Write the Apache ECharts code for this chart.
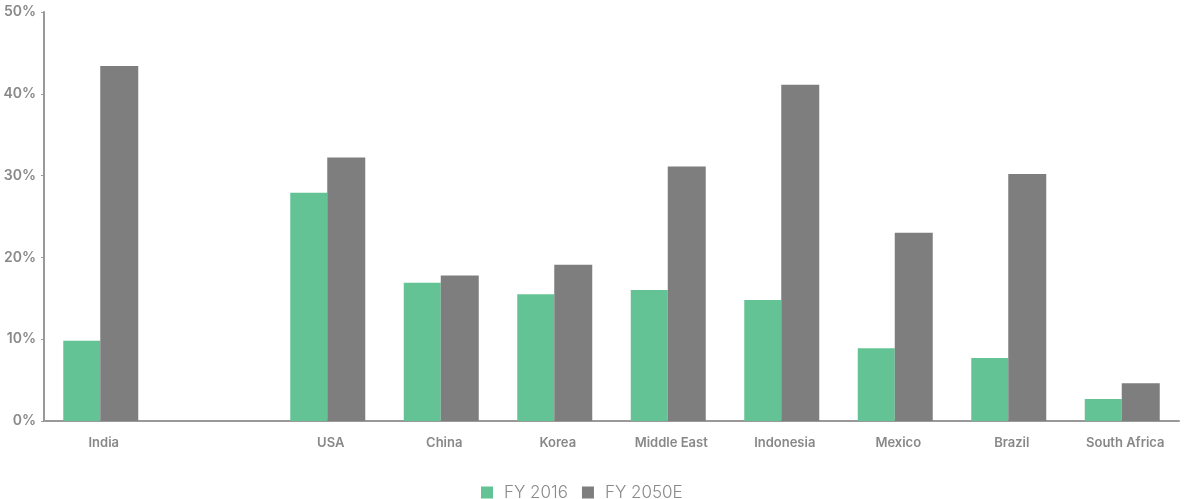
<!DOCTYPE html>
<html>
<head>
<meta charset="utf-8">
<script src="https://cdn.jsdelivr.net/npm/echarts@6/dist/echarts.min.js"></script>
<style>
html,body{margin:0;padding:0;background:#fff;}
#chart{width:1186px;height:499px;}
</style>
</head>
<body>
<div id="chart"></div>
<script>
const categories = ['India', '', 'USA', 'China', 'Korea', 'Middle East', 'Indonesia', 'Mexico', 'Brazil', 'South Africa'];
const fy2016 = [9.8, null, 27.9, 16.9, 15.5, 16.0, 14.8, 8.9, 7.7, 2.7];
const fy2050e = [43.4, null, 32.2, 17.8, 19.1, 31.1, 41.1, 23.0, 30.2, 4.6];
const yTicks = [0, 10, 20, 30, 40, 50];

const chart = echarts.init(document.getElementById('chart'));
const labelColor = '#888888';
chart.setOption({
  animation: false,
  textStyle: { fontFamily: 'Inter, "Noto Sans", sans-serif' },
  grid: { left: 44, right: 7, top: 12, bottom: 78 },
  legend: {
    top: 479,
    left: 476,
    itemWidth: 12,
    itemHeight: 12,
    itemGap: 14,
    icon: 'rect',
    textStyle: { color: '#8a8a8a', fontSize: 17, fontWeight: 300, padding: [0, 0, 0, 6] },
    data: ['FY 2016', 'FY 2050E']
  },
  xAxis: {
    type: 'category',
    data: categories,
    axisLine: { lineStyle: { color: '#999', width: 2 } },
    axisTick: { show: false },
    axisLabel: { color: labelColor, fontSize: 13, fontWeight: 600, margin: 16, padding: [0, 0, 0, 6] }
  },
  yAxis: {
    type: 'value',
    min: yTicks[0],
    max: yTicks[yTicks.length - 1],
    interval: 10,
    axisLine: { show: true, lineStyle: { color: '#999', width: 2 } },
    axisTick: { show: true, length: 3, lineStyle: { color: '#999' } },
    splitLine: { show: false },
    axisLabel: { color: labelColor, fontSize: 14, fontWeight: 600, margin: 8, formatter: '{value}%' }
  },
  series: [
    { name: 'FY 2016', type: 'bar', data: fy2016, barWidth: 37, barGap: '0%', itemStyle: { color: '#64c395' } },
    { name: 'FY 2050E', type: 'bar', data: fy2050e, barWidth: 38, barGap: '0%', itemStyle: { color: '#7e7e7e' } }
  ]
});
</script>
</body>
</html>
